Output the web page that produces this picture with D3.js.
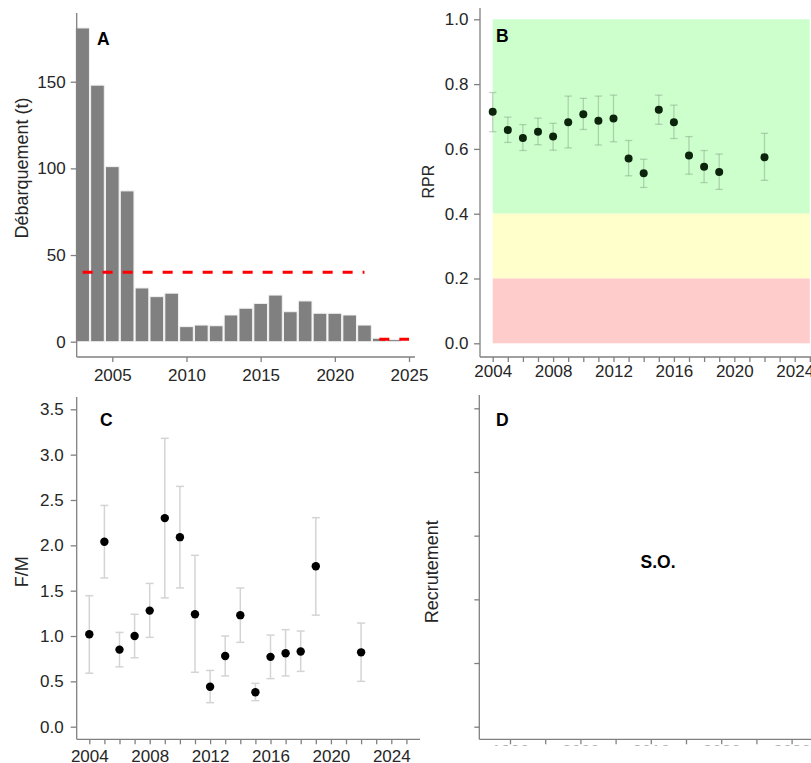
<!DOCTYPE html>
<html>
<head>
<meta charset="utf-8">
<script src="https://cdn.jsdelivr.net/npm/d3@7"></script>
<style>
  body { margin: 0; background: #fff; }
  svg { display: block; }
  text { font-family: "Liberation Sans", Arial, sans-serif; }
</style>
</head>
<body>
<svg id="chart" width="811" height="763"></svg>
<script>
// ---- Landings (panel A) ----
const landYears = d3.range(2003, 2025);
const landings = [181, 148, 101, 87, 31, 26, 28, 8.7, 9.6, 9.2, 15.4, 19.3,
                  22.1, 26.9, 17.3, 23.5, 16.4, 16.4, 15.4, 9.6, 2.0, 1.2];
const refStart = [2003, 2023];
const refEnd = [2022, 2025];
const refValue = [40, 1.4];
const landYTicks = [0, 50, 100, 150];
const landXTicks = [2005, 2010, 2015, 2020, 2025];

// ---- Relative spawning potential (panel B) ----
const idxYears = [2004, 2005, 2006, 2007, 2008, 2009, 2010, 2011, 2012,
                  2013, 2014, 2015, 2016, 2017, 2018, 2019, 2022];
const rpr = [0.715, 0.658, 0.634, 0.653, 0.638, 0.682, 0.707, 0.687, 0.694,
             0.570, 0.525, 0.721, 0.682, 0.580, 0.545, 0.529, 0.574];
const rprLow = [0.653, 0.620, 0.595, 0.613, 0.596, 0.603, 0.660, 0.612, 0.622,
                0.517, 0.481, 0.676, 0.632, 0.522, 0.496, 0.475, 0.503];
const rprHigh = [0.774, 0.698, 0.675, 0.695, 0.679, 0.763, 0.756, 0.763, 0.766,
                 0.626, 0.568, 0.766, 0.735, 0.638, 0.595, 0.584, 0.648];
const zoneLow = [0.4, 0.2, 0.0];
const zoneHigh = [1.0, 0.4, 0.2];
const rprTicks = [0, 0.2, 0.4, 0.6, 0.8, 1.0];

// ---- Fishing mortality ratio F/M (panel C) ----
const fm = [1.02, 2.04, 0.85, 1.00, 1.28, 2.30, 2.09, 1.24, 0.44,
            0.78, 1.23, 0.38, 0.77, 0.81, 0.83, 1.77, 0.82];
const fmLow = [0.59, 1.64, 0.66, 0.76, 0.985, 1.42, 1.53, 0.60, 0.265,
               0.56, 0.93, 0.287, 0.53, 0.56, 0.61, 1.23, 0.50];
const fmHigh = [1.445, 2.44, 1.04, 1.24, 1.58, 3.18, 2.65, 1.89, 0.62,
                1.00, 1.53, 0.478, 1.01, 1.07, 1.055, 2.305, 1.143];
const fmTicks = [0, 0.5, 1.0, 1.5, 2.0, 2.5, 3.0, 3.5];

// ---- Recruitment (panel D, no data) ----
const recYTicks = [0, 1, 2, 3, 4, 5];
const recXTicks = [1990, 1995, 2000, 2005, 2010, 2015, 2020, 2025, 2030];

const svg = d3.select("#chart");
const AXIS = "#808080";
const TXT = "#262626";

function styleAxis(g, size) {
  g.select(".domain").remove();
  g.selectAll(".tick line").attr("stroke", AXIS).attr("stroke-width", 1.3);
  g.selectAll(".tick text").attr("fill", TXT).style("font-size", size + "px");
}
function line(x1, y1, x2, y2) {
  svg.append("line").attr("x1", x1).attr("y1", y1).attr("x2", x2).attr("y2", y2)
    .attr("stroke", AXIS).attr("stroke-width", 1.3);
}
function yTitle(txt, cx, cy, size) {
  svg.append("text").attr("transform", `translate(${cx},${cy}) rotate(-90)`)
    .attr("text-anchor", "middle").attr("dominant-baseline", "central")
    .attr("fill", TXT).style("font-size", size + "px").text(txt);
}
function panelLabel(txt, x, y) {
  svg.append("text").attr("x", x).attr("y", y).attr("fill", "#000")
    .style("font-size", "17.5px").style("font-weight", "bold").text(txt);
}

// ================= Panel A =================
const xA = d3.scaleLinear().domain([2005, 2025]).range([112.3, 409]);
const yA = d3.scaleLinear().domain([0, 150]).range([341.7, 81.7]);

svg.append("g").selectAll("rect").data(landYears).join("rect")
  .attr("x", d => xA(d - 0.46))
  .attr("width", d => xA(d + 0.46) - xA(d - 0.46))
  .attr("y", (d, i) => yA(landings[i]))
  .attr("height", (d, i) => yA(0) - yA(landings[i]))
  .attr("fill", "#808080").attr("stroke", "#f2f2f2").attr("stroke-width", 1);

refValue.forEach((v, i) => {
  svg.append("line")
    .attr("x1", xA(refStart[i])).attr("x2", xA(refEnd[i]))
    .attr("y1", yA(v)).attr("y2", yA(v))
    .attr("stroke", "#ff0000").attr("stroke-width", 3)
    .attr("stroke-dasharray", "10,10");
});

line(76.7, 13, 76.7, 357);
line(76.7, 357, 415, 357);
svg.append("g").attr("transform", "translate(76.7,0)")
  .call(d3.axisLeft(yA).tickValues(landYTicks).tickSize(6).tickPadding(5))
  .call(g => styleAxis(g, 17));
svg.append("g").attr("transform", "translate(0,357)")
  .call(d3.axisBottom(xA).tickValues(landXTicks).tickFormat(d3.format("d"))
    .tickSize(5).tickPadding(7))
  .call(g => styleAxis(g, 17));
yTitle("Débarquement (t)", 21.7, 168, 18);
panelLabel("A", 97, 45);

// ================= Panel B =================
const xB = d3.scaleLinear().domain([2004, 2024]).range([492.7, 794.7]);
const yB = d3.scaleLinear().domain([0, 1]).range([343.3, 19.3]);
const zoneFill = ["#ccffcc", "#ffffcc", "#ffcccc"];

svg.append("g").selectAll("rect").data(zoneLow).join("rect")
  .attr("x", xB(2004)).attr("width", xB(2025) - xB(2004))
  .attr("y", (d, i) => yB(zoneHigh[i]))
  .attr("height", (d, i) => yB(d) - yB(zoneHigh[i]))
  .attr("fill", (d, i) => zoneFill[i]);

const gB = svg.append("g");
idxYears.forEach((yr, i) => {
  const x = xB(yr);
  gB.append("line").attr("x1", x).attr("x2", x)
    .attr("y1", yB(rprLow[i])).attr("y2", yB(rprHigh[i]));
  [rprLow[i], rprHigh[i]].forEach(v => gB.append("line")
    .attr("x1", x - 3.7).attr("x2", x + 3.7).attr("y1", yB(v)).attr("y2", yB(v)));
});
gB.selectAll("line").attr("stroke", "rgba(110,130,110,0.35)").attr("stroke-width", 1.3);
svg.append("g").selectAll("circle").data(idxYears).join("circle")
  .attr("cx", d => xB(d)).attr("cy", (d, i) => yB(rpr[i])).attr("r", 4)
  .attr("fill", "#0b240b");

line(480, 8, 480, 357);
line(480, 357, 811, 357);
svg.append("g").attr("transform", "translate(480,0)")
  .call(d3.axisLeft(yB).tickValues(rprTicks).tickFormat(d3.format(".1f"))
    .tickSize(6).tickPadding(5.5))
  .call(g => styleAxis(g, 17));
svg.append("g").attr("transform", "translate(0,357)")
  .call(d3.axisBottom(xB).tickValues(d3.range(2004, 2026))
    .tickFormat(d => (d - 2004) % 4 === 0 ? d : "").tickSize(5).tickPadding(3))
  .call(g => styleAxis(g, 17));
yTitle("RPR", 428, 181.7, 16);
panelLabel("B", 496, 42);

// ================= Panel C =================
const xC = d3.scaleLinear().domain([2004, 2024]).range([89.3, 391.3]);
const yC = d3.scaleLinear().domain([0, 3.5]).range([726.7, 409.3]);

const gC = svg.append("g");
idxYears.forEach((yr, i) => {
  const x = xC(yr);
  gC.append("line").attr("x1", x).attr("x2", x)
    .attr("y1", yC(fmLow[i])).attr("y2", yC(fmHigh[i]));
  [fmLow[i], fmHigh[i]].forEach(v => gC.append("line")
    .attr("x1", x - 4).attr("x2", x + 4).attr("y1", yC(v)).attr("y2", yC(v)));
});
gC.selectAll("line").attr("stroke", "#d4d4d4").attr("stroke-width", 1.5);
svg.append("g").selectAll("circle").data(idxYears).join("circle")
  .attr("cx", d => xC(d)).attr("cy", (d, i) => yC(fm[i])).attr("r", 4.2)
  .attr("fill", "#000");

line(76.7, 397, 76.7, 739.3);
line(76.7, 739.3, 420, 739.3);
svg.append("g").attr("transform", "translate(76.7,0)")
  .call(d3.axisLeft(yC).tickValues(fmTicks).tickFormat(d3.format(".1f"))
    .tickSize(6).tickPadding(7))
  .call(g => styleAxis(g, 17));
svg.append("g").attr("transform", "translate(0,739.3)")
  .call(d3.axisBottom(xC).tickValues(d3.range(2004, 2026))
    .tickFormat(d => (d - 2004) % 4 === 0 ? d : "").tickSize(5).tickPadding(5.5))
  .call(g => styleAxis(g, 17));
yTitle("F/M", 21.7, 571.7, 18);
panelLabel("C", 100, 426);

// ================= Panel D =================
const xD = d3.scaleLinear().domain([1990, 2030]).range([510, 791.6]);
const yD = d3.scaleLinear().domain([0, 5]).range([726.7, 408.3]);

svg.append("defs").append("clipPath").attr("id", "clipD")
  .append("rect").attr("x", 470).attr("y", 380).attr("width", 341).attr("height", 366);

line(479.3, 395, 479.3, 739.3);
line(479.3, 739.3, 811, 739.3);
svg.append("g").attr("transform", "translate(479.3,0)")
  .call(d3.axisLeft(yD).tickValues(recYTicks).tickFormat("").tickSize(5))
  .call(g => styleAxis(g, 17));
svg.append("g").attr("clip-path", "url(#clipD)")
  .append("g").attr("transform", "translate(0,739.3)")
  .call(d3.axisBottom(xD).tickValues(recXTicks)
    .tickFormat(d => (d - 1990) % 10 === 0 ? d : "").tickSize(5).tickPadding(1))
  .call(g => styleAxis(g, 17))
  .call(g => g.selectAll(".tick text").attr("fill", "#b0b0b0"));
yTitle("Recrutement", 431.7, 571.7, 18);
panelLabel("D", 496, 426);
svg.append("text").attr("x", 658).attr("y", 561.7)
  .attr("text-anchor", "middle").attr("dominant-baseline", "central")
  .attr("fill", "#000").style("font-size", "17.5px").style("font-weight", "bold")
  .text("S.O.");
</script>
</body>
</html>
